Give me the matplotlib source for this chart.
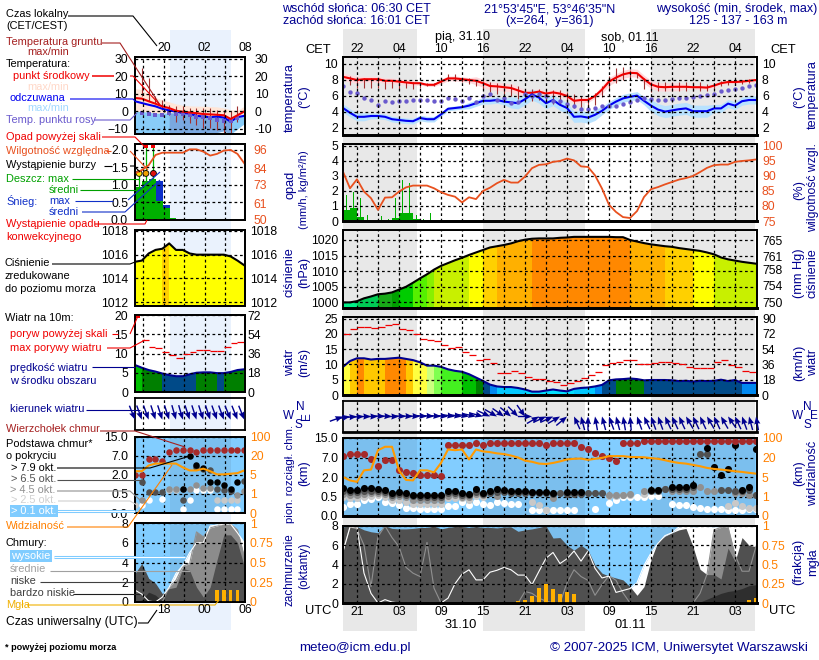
import numpy as np
import matplotlib
matplotlib.use('Agg')
import matplotlib.pyplot as plt
from matplotlib.colors import ListedColormap, BoundaryNorm
from matplotlib.ticker import NullLocator

plt.rcParams['font.family'] = ['Liberation Sans', 'DejaVu Sans']
FS = 8.7
LFS = 7.9
LW = 1.5
NAVY = '#000090'
ORANGE = '#ff8000'
RHCOL = '#e8501e'
na = np.nan

# ---- main meteogram, hourly, hour 0 = 19 UTC ----
hours = np.arange(60)
night_main = [(0, 10.5), (20, 34.6), (44, 58.9)]
grid_main = np.arange(2, 59, 3)
cet_labels = ['22', '', '04', '', '10', '', '16', '', '22', '', '04', '', '10', '', '16', '', '22', '', '04']
utc_labels = ['21', '', '03', '', '09', '', '15', '', '21', '', '03', '', '09', '', '15', '', '21', '', '03']

temp_mid = [8.4, 8.2, 8.0, 8.1, 8.1, 8.1, 7.9, 7.9, 7.8, 7.7, 7.6, 7.6, 7.4, 7.4, 7.8, 8.2, 8.2, 8.1, 8.0, 7.9,
            7.6, 7.25, 7.2, 7.1, 7.0, 6.7, 6.4, 6.4, 6.55, 6.3, 6.45, 6.3, 6.0, 5.4, 5.5, 5.5, 6.0, 6.8, 7.8, 8.3,
            8.7, 8.9, 8.85, 8.1, 7.45, 7.15, 7.1, 7.15, 7.15, 7.15, 7.1, 7.1, 7.05, 7.3, 7.6, 7.75, 7.75, 7.8, 7.9, 8.0]
temp_spread = [.45, .45, .45, .35, .35, .35, .35, .35, .35, .35, .35, .2, .2, .2, .3, .3, .3, .3, .3, .5,
               .5, .5, .5, .5, .5, .5, .35, .35, .35, .35, .35, .35, .35, .3, .3, .3, .3, .5, .5, .5,
               .5, .5, .5, .5, .5, .5, .5, .5, .5, .25, .25, .25, .25, .2, .2, .2, .2, .2, .2, .2]
felt_mid = [4.5, 3.9, 3.4, 3.4, 3.5, 3.5, 3.4, 3.1, 3.0, 2.9, 2.85, 3.25, 3.1, 3.1, 3.7, 4.4, 4.5, 4.6, 4.8, 5.1,
            5.4, 5.4, 5.5, 5.3, 5.2, 5.1, 5.6, 6.2, 5.8, 5.1, 5.5, 4.9, 4.5, 3.4, 3.45, 3.3, 3.65, 4.15, 4.8, 5.3,
            5.7, 5.9, 6.05, 5.4, 4.8, 4.3, 4.05, 4.2, 4.35, 4.45, 4.1, 4.1, 4.1, 4.45, 4.45, 5.05, 4.8, 5.35, 5.5, 5.5]
felt_spread = [.5, .5, .5, .5, .35, .35, .35, .35, .35, .35, .35, .35, .35, .35, .25, .25, .25, .25, .4, .4,
               .4, .4, .4, .4, .7, .7, .7, .7, .7, .7, .7, .7, .7, .7, .7, .7, .7, .5, .5, .5,
               .5, .5, .5, .5, .75, .75, .75, .75, .75, .75, .75, .75, .75, .5, .5, .5, .5, .5, .5, .5]
dew_point = [7.25, 6.55, 6.4, 5.75, 5.5, 4.9, 5.35, 5.3, 5.4, 5.4, 5.5, 5.55, 5.45, 5.4, 5.4, 5.7, 5.65, 5.4, 5.8, 5.3,
             6.0, 6.2, 5.55, 5.7, 5.1, 5.2, 6.2, 6.0, 6.2, 6.0, 5.4, 5.4, 5.0, 4.7, 4.4, 4.4, 4.55, 4.7, 4.8, 4.8,
             5.05, 5.2, 5.5, 5.8, 5.6, 5.45, 5.45, 5.6, 5.7, 5.8, 5.9, 6.0, 6.1, 6.2, 6.6, 6.8, 6.9, 7.05, 7.2, 7.35]
ground_max = [8.4, 8.5, 8.4, 8.3, 8.3, 8.2, 8.0, 8.0, 7.9, 7.8, 7.8, 7.8, 7.6, 7.6, 8.2, 8.7, 8.7, 8.3, 8.2, 8.0,
              7.9, 7.7, 7.6, 7.6, 7.5, 7.2, 6.9, 6.9, 6.9, 6.8, 6.8, 6.7, 6.5, 6.3, 6.0, 6.3, 6.4, 7.2, 8.5, 9.5,
              9.6, 9.2, 8.9, 8.3, 7.7, 7.7, 7.7, 7.8, 7.8, 7.7, 7.7, 7.7, 7.5, 7.6, 7.9, 8.0, 8.0, 8.0, 8.1, 8.1]
ground_min = [8.4, 7.4, 7.0, 7.0, 7.0, 7.0, 6.9, 7.0, 6.9, 7.0, 6.9, 7.0, 7.2, 7.3, 7.6, 7.9, 7.9, 7.7, 7.5, 7.2,
              6.9, 6.5, 6.3, 6.2, 6.0, 5.6, 5.5, 5.4, 5.5, 5.3, 5.0, 5.0, 4.6, 4.5, 4.3, 4.6, 4.9, 5.9, 6.9, 7.6,
              8.0, 8.3, 8.3, 6.9, 6.5, 6.6, 6.6, 6.6, 6.6, 6.6, 6.6, 6.6, 6.6, 6.9, 7.2, 7.4, 7.4, 7.5, 7.6, 7.7]

rain_mean = [.7, .85, .28, .05, 0, .08, .03, .2, .5, .5, .1, .02, 0, 0, .01]
rain_max = [1.75, 1.95, 1.5, .4, 0, .35, .1, 1.55, 2.7, 2.5, .4, .12, .5, 0, .03]
humidity = [91.4, 85.9, 88.9, 84.8, 82.6, 78.7, 82.8, 82.9, 84.8, 86.2, 86.8, 86.8, 86.8, 85.9, 84.6, 83.7, 83.1, 81.2, 82.9, 82.3,
            85.0, 86.1, 87.6, 88.7, 87.8, 87.8, 89.8, 92.6, 93.7, 93.9, 94.7, 95.0, 95.8, 95.2, 93.2, 93.0, 90.2, 85.8, 80.4, 78.0,
            76.3, 76.0, 78.3, 83.0, 85.6, 86.3, 87.2, 88.0, 88.8, 89.3, 90.0, 91.3, 92.7, 93.6, 93.8, 93.8, 94.7, 95.0, 95.2, 95.5]
pressure = [1000, 1000, 1000.4, 1001.3, 1001.9, 1002.6, 1002.8, 1003.2, 1004.1, 1005, 1006.3, 1007.7, 1009, 1010.5, 1011.7, 1012.6, 1013.5, 1014.3, 1015.2, 1016,
            1016.8, 1017.6, 1018, 1018.4, 1018.9, 1019.6, 1020.1, 1020.4, 1020.5, 1020.5, 1020.5, 1020.7, 1020.8, 1021, 1021, 1021, 1021, 1021, 1021, 1020.9,
            1020.9, 1020, 1019.5, 1019, 1018.6, 1018.3, 1018, 1017.8, 1017.4, 1017.1, 1016.8, 1016.5, 1016, 1015.4, 1014.4, 1013.8, 1013.4, 1013, 1012.7, 1012.4]
pressure_edges = [990, 1000.5, 1002.4, 1003.5, 1004.5, 1006, 1007, 1009.5, 1011, 1015, 1016.7, 1018.1, 1020.45, 1030]
pressure_colors = ['#00f088', '#00cc55', '#18a818', '#00a000', '#00cc00', '#22e000', '#55f000', '#88f000',
                   '#c8f000', '#ffff00', '#ffd000', '#ffb000', '#ff8800']
wind_speed = [9.2, 11.1, 12, 12, 11.6, 11.8, 11.8, 12, 12.2, 11.8, 11.4, 10.7, 9.6, 9.6, 9.2, 8.4, 7.9, 7.6, 6.8, 5.7,
              4.6, 3.4, 2.8, 2.6, 2.6, 2.3, 1.8, 1.1, 1.1, 1.45, 1.8, 1.45, 1.2, 2.0, 2.3, 2.45, 2.8, 3.3, 4.8, 5.1,
              5.2, 5.4, 5.2, 4.8, 4.9, 4.9, 4.9, 4.8, 4.55, 4.65, 4.4, 4.65, 4.55, 4.65, 5.0, 4.55, 4.9, 3.95, 3.95, 3.95]
wind_edges = [0, 1.9, 2.9, 4.0, 5.0, 6.2, 7.6, 9.0, 9.5, 9.9, 11.1, 11.85, 30]
wind_colors = ['#00e0ff', '#00c8ff', '#0088f0', '#004a88', '#007f00', '#00c000', '#44f020', '#80ff50',
               '#ccff80', '#ffff40', '#ffc800', '#ff8800']
gust = [20, 21.7, 22.3, 22.3, 22, 22.3, 22.8, 23.1, 21.7, 21.3, 20, 18.4, 18, 17.6, 16.3, 15.3, 15.7, 14, 13.1, 11.3,
        11.7, 10.4, 7.3, 7.3, 7.8, 7.3, 6, 5.3, 5.3, 4.7, 4.4, 3.3, 4, 4.7, 5.7, 6.4, 7.4, 9.7, 10.4, 10.9,
        11.3, 11.3, 10, 10, 10.4, 10.8, 10.8, 10.4, 10, 9.3, 8.7, 8.7, 8.7, 10.7, 11.3, 9.8, 9, 8, 7.4]
wind_dir = [20, 10, 5, 3, 0, 0, -3, -3, 0, -3, -3, -3, -5, -5, -5, -5, -8, -8, -10, -12,
            -15, -25, -30, -35, -40, -45, -55, 0, 30, 25, 25, 30, 40, 115, 105, 90, 100, 105, 110, 105,
            100, 95, 110, 115, 110, 110, 115, 115, 115, 120, 115, 115, 120, 115, 120, 125, 115, 110, 105, 100]

cloud_top = [7.6, 8.4, 8.4, 8.4, 6.65, 4.85, 6.3, 6.4, 3.9, 3.3, 3.1, 2.5, 2.5, 2.6, 2.15, 12.2, 12.2, 12.2, 12.2, 12.8,
             12.2, 12.9, 12.9, 12.9, 12.9, 12.9, 12.9, 12.9, 12.9, 12.2, 12.9, 12.9, 12.9, 12.9, 11.4, 10.3, 8.8, 7.8, 6.75, 6.0,
             12.9, 12.9, 12.9, 13.7, 13.7, 13.7, 13.7, 13.7, 13.7, 13.7, 13.7, 13.7, 13.7, 13.7, 13.7, 13.7, 13.7, 13.7, 13.7, 13.7]
base_79 = [1.12, 1.0, 1.0, 1.12, 1.12, 1.05, 1.0, .8, .82, .75, .65, .6, .6, .58, .58, .94, .94, .76, .72, 1.04,
           .8, .94, 1.04, .98, .94, .9, .9, .85, .85, .85, .8, na, .82, .82, .82, na, na, na, na, na,
           na, na, na, na, 1.0, 1.0, na, 1.22, 1.22, 1.22, 1.4, na, 11, 4.5, 2.6, 4, 12, 1.0, 1.2, 10.6]
base_65 = [.95, .85, .85, .95, .95, .9, .85, .65, .7, .6, .55, .5, .5, .5, .5, .8, .8, .65, .6, .85,
           .7, .8, .85, .85, .8, .8, .8, .75, .75, .75, .7, .78, .7, .7, .7, .75, .75, .75, na, na,
           na, na, na, na, .9, .9, 1.05, 1.1, 1.1, 1.1, 1.2, 8.5, 8.3, na, 1, 1, .9, .9, 1, .65]
base_45 = [.7, .65, .65, .7, .75, .8, .7, .5, .55, .48, .42, .42, .42, .42, .42, .55, .6, .5, .5, .7,
           .65, na, .55, na, na, na, na, na, na, na, .46, na, na, na, na, na, na, na, .65, .65,
           .65, .68, na, .95, 1, 1, 1.05, .95, .95, .95, .9, 1.25, .95, .95, na, na, .8, .8, .6, .6]
base_25 = [.5, .45, .45, .5, .55, .6, .5, .4, .4, .35, .3, .3, .3, .3, .3, .45, .45, .45, .4, .55,
           .5, na, na, na, na, na, na, .37, .28, .15, na, na, na, na, na, na, na, na, .55, .55,
           .6, .6, na, .7, na, na, na, na, na, na, na, na, na, na, na, .26, .33, .26, .2, .2]
base_01 = [.24, .31, .31, .4, .43, .5, .37, .34, .28, .21, .2, .18, .18, .18, .18, .26, .26, .37, .28, .36,
           .31, .28, .37, .33, .31, .31, na, .15, .15, .15, .15, .15, .15, .15, na, na, .18, na, .33, .42,
           .5, .5, .5, .5, .54, .54, na, .31, .28, .28, .24, .2, .18, .18, .18, .16, .16, .16, .18, .18]
visibility = [5, 4.3, 4, 10.1, 10.7, 50, 64, 64, 10, 4.4, 4.3, 10.1, 10.1, 8.6, 15.8, 53, 50, 53, 18.5, 53,
              45, 42, 37, 34, 28, 20, 17.6, 16.7, 15.3, 15, 15.8, 17, 18.5, 19, 19.2, 18.2, 19, 19.7, 25.6, 25.6,
              25.6, 22.4, 21.6, 21, 19.5, 19, 17.9, 16.7, 15.8, 15.3, 14.3, 13.3, 12, 11.2, 10.7, 10.1, 9.4, 8.9, 8.2, 7.6]

cover_high = [5.35, 7.9, 7.9, 3.1, 1, 0, .35, .1, 0, 0, 0, 0, 0, 0, 0, .5, 2, 3, 3.45, 2.4,
              2.4, 3.2, 3.4, 3.7, 3.45, 2.9, 2.9, 1.9, 3.3, 4.65, 5.25, 4.1, 4.6, 5.4, 4.35, 5.4, 3.6, 2.6, 2.8, 1.1,
              1.3, 1.5, 2.1, 3.9, 5.2, 6.2, 7, 7.3, 7.9, 8, 7.9, 7.95, 7.95, 7.9, 7.95, 7.95, 7.95, 7.95, 7.95, 7.95]
cover_mid = [5.35, 7.9, 7.7, 6, 1.7, 6.9, 8, 6.8, 5.85, 3.7, 3.1, 2.75, 6.3, 1.55, 0, 0, 0, 0, 0, 0,
             0, 0, 0, 0, 0, 0, 1.2, 1, .5, .2, 0, 0, 2.1, 3.45, 2.75, 2.35, .8, 1.9, 2.85, 2.35,
             1.05, 0, 0, 0, 0, 0, 0, 0, 0, 0, 0, 1, 3, 7.6, 7.85, 7.9, 5, 3.3, 3.3, 5.9]
cover_low = [7.9, 8, 7.95, 7.6, 7.4, 7.3, 8, 7.75, 7.7, 7.7, 7.75, 7.85, 7.85, 8, 7.7, 7.85, 7.95, 7.95, 7.85, 7.95,
             7.85, 7.85, 7.8, 7.9, 7.9, 7.45, 7.6, 7.7, 7.85, 8, 6.75, 6.8, 6, 5.5, 6, 5.5, 3.95, 3.1, 2.8, 2.6,
             2.4, 1.7, .8, 1.7, 4.5, 6.4, 6.95, 7.3, 7.6, 7.75, 5.85, 3.5, 2.95, 2.95, 2.5, 5.7, 4.3, 6.8, 6, 5.85]
cover_vlow = [0] * 50 + [0, .1, .4, .7, 1.0, 1.2, 1.3, 1.5, 1.8, 1.9]
fog_hours = [25, 26, 27, 28, 29, 30, 31, 32, 33, 58, 59]
fog_frac = [.02, .04, .085, .2, .25, .18, .12, .14, .12, .04, .06]

# ---- small sample meteogram on the left (legend) ----
hl = np.arange(17)
night_left = (5.1, 14.05)
grid_left = [1.2, 4.2, 7.2, 10.2, 13.2]
l_temp = [7.7, 7.3, 5.8, 4.4, 2.9, 1.9, .4, -.2, -.6, -1, -1.5, -1.7, -1.9, -2.2, -4.3, -2.2, 0]
l_temp_hi = [13, 12.5, 9.5, 8, 6.5, 5.5, 4.3, 3.5, 3.2, 3, 3, 2.8, 2.6, 2, 1, .5, 3]
l_felt = [5.8, 4.8, 3.8, 2.9, 1.5, .6, -.2, -1, -1.3, -2.5, -2.9, -3.3, -2.9, -3.5, -5.8, -3.3, -2.5]
l_felt_hi = [0, 0, -.5, -1, -1, -.8, -1, -1.5, -1.8, -2.5, -3, -3.5, -3, -4, -6, -3.5, -2.5]
l_felt_lo = [-13, -13, -13, -13, -13, -13, -13, -13, -13, -13, -13, -13, -12, -11, -13, -10, -7]
l_dew = [na, -1, -1.3, -1.9, -2.3, -1, -1.3, -1.3, -1.9, -3.3, -3.3, -3.8, -4.8, -5.2, -5.2, -3.8, na]
l_ground_hours = np.arange(1, 16)
l_ground_max = [25, 19, 8.6, 6.7, 3.8, 3.3, 2.9, 1.9, 1.9, 1.9, 1.9, 1, .6, 0, 3.3]
l_ground_min = [8.6, 5.8, 4.8, 1, -1.9, -5.8, -4.8, -6.7, -7.7, -9.6, -9.6, -10.6, -12.5, -12.5, -5.8]
l_rain = [.95, 1.1, 1.17, .55, .33, .05]
l_snow = [0, 0, 0, 1.1, .43, 0]
l_rain_max = [1.4, 2.1, 2.1]
l_rain_max_hours = [.6, 1.6, 2.7]
l_storm_colors = ['#ffe000', '#f0a000', '#e01010']
l_rh = [80.6, 82.8, 86, 92.7, 94.2, 94.2, 94.2, 94.2, 96.4, 96.4, 94.9, 92.3, 93.4, 95.6, 96, 93.4, 87.2]
l_pressure = [1015.4, 1015.5, 1016.1, 1016.4, 1016.5, 1016.95, 1016.4, 1016.4, 1016.1, 1016, 1016, 1016, 1016, 1016, 1015.85, 1015.5, 1015.1]
l_wind = [7, 6.3, 5.7, 5.3, 4.8, 4.4, 4.1, 4.1, 4.6, 5, 5.1, 5.1, 4.9, 4.9, 5.2, 5.7, 5.9]
l_gust = [13.4, 11.6, 11.4, 10.5, 9.7, 8.9, 9.9, 10.4, 10.9, 10.9, 10.7, 10.7, 11.8, 12.8, 13.1]
l_gust_hours = np.arange(1, 16)
l_wind_dir = [-68, -70, -70, -72, -72, -72, -74, -74, -72, -72, -72, -72, -70, -70, -68, -68, -68]
l_top = [2, 2, 6.2, 6.2, 5.8, 8.8, 9.5, 9.5, 9.5, 8.8, 9.5, 9.5, 9.5, 9.5, 9.5, 9.5, 9.5]
l_79 = [na, na, na, na, na, na, na, .86, 7, 4.65, 3.8, 1.46, 1.46, 1.2, .86, 1.46, na]
l_65 = [na, 1.45, .63, .63, .63, na, na, .35, na, 4.2, 3.5, 3.2, .92, .8, .7, na, 1.5]
l_45 = [na, .33, na, na, na, .86, .86, .86, .86, 1.2, .95, 1.0, na, na, na, .47, .7]
l_25 = [.2, na, na, na, na, .8, .8, na, na, na, na, na, .34, .34, .34, .34, na]
l_01 = [na, .2, .34, na, .36, na, na, .1, .33, .8, .8, .8, .1, .1, .1, .1, na]
l_vis = [8, 8, 12.5, 14, 14, 14, 14, 11, 8.6, 8.6, 10, 8, 5.5, 5.5, 6, 6.5, 8.6]
l_high = [1.2, .8, .1, 0, .5, 1.5, 2.9, 3.7, 5, 6, 6, 7.7, 7.8, 7.9, 7.9, 7, 6]
l_mid = [0, 0, 0, 0, 0, 1.5, 2.2, 3.6, 3.9, 7.1, 6.6, 7.5, 7.7, 7.9, 7.9, 7.3, 4.6]
l_low = [2.9, 3.9, 2.4, 1.9, .85, 1.35, 1.5, 3.4, 3.2, 1.5, .5, 1.5, 4.25, 6.8, 6.8, 6, 3.6]
l_vlow = [0, .2, 1.0, .7, .1, 0, 0, 0, 0, 0, 0, 0, 0, 0, 0, 0, 0]
l_fog_hours = [12, 13, 14, 15]
l_fog = [.15, .15, .15, .15]

base_ticks = [0, .5, 2, 7, 15]
vis_ticks = [0, 1, 5, 20, 100]
SKY_DAY = '#82cdff'
SKY_NIGHT = '#7bbfee'
C_79, C_65, C_45, C_25, C_01 = 'black', '#505050', '#909090', '#c8c8c8', 'white'


def base_fwd(v):
    return np.interp(v, base_ticks, [0, 1, 2, 3, 4])


def base_inv(p):
    return np.interp(p, [0, 1, 2, 3, 4], base_ticks)


def vis_fwd(v):
    return np.interp(v, vis_ticks, [0, 1, 2, 3, 4])


def vis_inv(p):
    return np.interp(p, [0, 1, 2, 3, 4], vis_ticks)


fig = plt.figure(figsize=(8.2, 6.6), dpi=100, facecolor='white')


def box_axes(x0, y0, x1, y1, **kw):
    return fig.add_axes([x0 / 820, 1 - y1 / 660, (x1 - x0) / 820, (y1 - y0) / 660], **kw)


# backgrounds behind the panels
bg = box_axes(343, 29, 757, 631, zorder=-2, xlim=(0, 59.14), ylim=(0, 1))
bg.axis('off')
for a, b in night_main:
    bg.axvspan(a, b, color='#e8e8e8', lw=0)
bg2 = box_axes(135, 30, 245, 630, zorder=-2, xlim=(0, 16.1), ylim=(0, 1))
bg2.axis('off')
bg2.axvspan(*night_left, color='#eaf2fd', lw=0)


def panel(box, xlim, xticks, ylim, yticks, ylabels=None, rticks=None, rlabels=None, rlim=None,
          rcolor='black', yscale=None, rscale=None, facecolor='none', lpad=3.6, rpad=3.6, bottom_lw=2):
    ax = box_axes(*box, facecolor=facecolor)
    ax.set_xlim(*xlim)
    if yscale:
        ax.set_yscale('function', functions=yscale)
        ax.yaxis.set_minor_locator(NullLocator())
    ax.set_ylim(*ylim)
    ax.set_xticks(xticks)
    ax.tick_params(length=0, labelsize=FS, labelbottom=False)
    ax.tick_params(axis='x', pad=1.5)
    ax.tick_params(axis='y', pad=lpad)
    ax.set_yticks(yticks if yticks else [])
    if ylabels:
        ax.set_yticklabels(ylabels)
    ax.grid(True, color='black', lw=0.9, ls=(0, (2.2, 2.2)))
    ax.set_axisbelow(False)
    for s in ax.spines.values():
        s.set_linewidth(1.3)
    ax.spines['bottom'].set_linewidth(bottom_lw)
    tw = None
    if rlim is not None:
        tw = ax.twinx()
        if rscale:
            tw.set_yscale('function', functions=rscale)
            tw.yaxis.set_minor_locator(NullLocator())
        tw.set_ylim(*rlim)
        tw.set_yticks(rticks)
        tw.set_yticklabels(rlabels if rlabels else [str(t) for t in rticks])
        tw.tick_params(length=0, labelsize=FS, pad=rpad, colors=rcolor)
        tw.patch.set_visible(False)
        for s in tw.spines.values():
            s.set_linewidth(1.3)
        tw.spines['bottom'].set_linewidth(bottom_lw)
    return ax, tw


def fill_classes(ax, x, y, edges, colors):
    # coloured columns, cut off at the line
    y = np.asarray(y, float)
    lo, hi = ax.get_ylim()
    poly = ax.fill_between(x, y, lo, facecolor='none', edgecolor='none')
    mids = (y[:-1] + y[1:]) / 2
    mesh = ax.pcolormesh(x, [lo, hi], mids[None, :], cmap=ListedColormap(colors),
                         norm=BoundaryNorm(edges, len(colors)), zorder=1, linewidth=0)
    mesh.set_clip_path(poly.get_paths()[0], ax.transData)


def arrows(ax, x, angles, length, y0=0):
    a = np.radians(angles)
    ax.quiver(x, np.full(len(x), y0), length * np.cos(a), length * np.sin(a), angles='uv', scale_units='dots',
              scale=1, units='dots', width=1.4, headwidth=4.4, headlength=5.5, headaxislength=5,
              pivot='tip', color='#000090', clip_on=False, zorder=3)


def cloud_dots(ax, x, top, b79, b65, b45, b25, b01, size):
    for vals, col in [(b01, C_01), (b25, C_25), (b45, C_45), (b65, C_65), (b79, C_79), (top, '#a52a2a')]:
        ax.scatter(x, vals, s=size, color=col, lw=0, zorder=3, clip_on=True)


def cover_layers(ax, x, high, mid, low, vlow):
    ax.fill_between(x, 0, high, color='white', lw=0, zorder=1)
    ax.fill_between(x, 0, mid, color='#8c8c8c', lw=0, zorder=1.1)
    ax.fill_between(x, 0, low, color='#505050', lw=0, zorder=1.2)
    ax.fill_between(x, 0, vlow, color='#2e2e2e', lw=0, zorder=1.3)
    ax.plot(x, mid, color='#909090', lw=.8, zorder=2)
    ax.plot(x, high, color='white', lw=.8, zorder=2.1)


# ---- main panels ----
xm = (0, 59.14)
temp = np.array(temp_mid)
felt = np.array(felt_mid)
ax, tw = panel((343, 57, 757, 135), xm, grid_main, (1.125, 10.875), [2, 4, 6, 8, 10],
               rticks=[2, 4, 6, 8, 10], rlim=(1.125, 10.875))
ax.set_xticklabels(cet_labels)
ax.tick_params(labeltop=True, top=False)
ax.fill_between(hours, temp - temp_spread, temp + temp_spread, color='#ffd8dc', lw=0, zorder=1)
ax.fill_between(hours, felt - felt_spread, felt + felt_spread, color='#b8e2ff', lw=0, zorder=1.1)
ax.vlines(hours, ground_min, ground_max, color='#a03030', lw=.8, zorder=1.5)
ax.plot(hours, temp, color='#f00000', lw=LW, zorder=2)
ax.plot(hours, felt, color='#0000f0', lw=LW, zorder=2)
ax.scatter(hours, dew_point, s=10, color='#6a5acd', lw=0, zorder=2)

ax, tw = panel((343, 144, 757, 221), xm, grid_main, (0, 5.13), [0, 1, 2, 3, 4, 5],
               rticks=[75, 80, 85, 90, 95, 100], rlim=(75, 100.65), rcolor=RHCOL)
ax.set_xticklabels([])
ax.bar(hours[:len(rain_mean)] + .5, rain_mean, width=1, color='#00b000', lw=0, zorder=1)
ax.bar(hours[:len(rain_max)] + .45, rain_max, width=.14, color='#00b000', lw=0, zorder=1)
tw.plot(hours, humidity, color=RHCOL, lw=1.3)

pmin, pmax = 998.2, 1023.2
ax, tw = panel((343, 230, 757, 308), xm, grid_main, (pmin, pmax), [1000, 1005, 1010, 1015, 1020],
               rticks=[750, 754, 758, 761, 765], rlim=(pmin * .75006, pmax * .75006))
ax.set_xticklabels([])
fill_classes(ax, hours, pressure, pressure_edges, pressure_colors)
ax.plot(hours, pressure, color='black', lw=LW, zorder=2)

ax, tw = panel((343, 317, 757, 395), xm, grid_main, (0, 25.5), [0, 5, 10, 15, 20, 25],
               rticks=[0, 18, 36, 54, 72, 90], rlim=(0, 25.5 * 3.6))
ax.set_xticklabels([])
fill_classes(ax, hours, wind_speed, wind_edges, wind_colors)
ax.plot(hours, wind_speed, color='#000090', lw=LW, zorder=2)
ax.hlines(gust, hours[:len(gust)], hours[:len(gust)] + 1, color='#f00000', lw=.9, zorder=3)

ax, tw = panel((343, 401, 757, 432), xm, grid_main, (-1, 1), [0])
ax.set_xticklabels([])
ax.set_yticklabels([''])
ax.yaxis.grid(False)
arrows(ax, hours, wind_dir, 14)

ax, tw = panel((343, 438, 757, 516), xm, grid_main, (0, 15), base_ticks,
               ['0.0', '0.5', '2.0', '7.0', '15.0'], rticks=vis_ticks, rlim=(0, 100), rcolor=ORANGE,
               yscale=(base_fwd, base_inv), rscale=(vis_fwd, vis_inv), facecolor=SKY_DAY)
ax.set_xticklabels([])
for a, b in night_main:
    ax.axvspan(a, b, color=SKY_NIGHT, lw=0, zorder=0.5)
cloud_dots(ax, hours, cloud_top, base_79, base_65, base_45, base_25, base_01, 26)
tw.plot(hours, visibility, color='#ff9a00', lw=LW)

ax, tw = panel((343, 526, 757, 603), xm, grid_main, (0, 8), [0, 2, 4, 6, 8],
               rticks=[0, .25, .5, .75, 1], rlabels=['0', '0.25', '0.5', '0.75', '1'], rlim=(0, 1),
               rcolor=ORANGE, facecolor=SKY_DAY)
for a, b in night_main:
    ax.axvspan(a, b, color=SKY_NIGHT, lw=0, zorder=0.5)
cover_layers(ax, hours, cover_high, cover_mid, cover_low, cover_vlow)
tw.bar(fog_hours, fog_frac, width=.5, color='#ffb000', lw=0)
ax.tick_params(labelbottom=True)
ax.tick_params(axis='x', pad=2.5)
ax.set_xticklabels(utc_labels)

# ---- left panels ----
xl = (0, 16.1)
ax, tw = panel((135, 57, 245, 134), xl, grid_left, (-12.9, 31.1), [-10, 0, 10, 20, 30],
               rticks=[-10, 0, 10, 20, 30], rlim=(-12.9, 31.1), lpad=5, rpad=7, bottom_lw=1.3)
ax.fill_between(hl, l_felt_hi, l_temp_hi, color='#ffe6d8', lw=0, zorder=1)
ax.fill_between(hl, l_felt_lo, l_felt_hi, color='#88ccf8', lw=0, zorder=1.1)
band = (hl >= night_left[0] - .2) & (hl <= night_left[1])
ax.fill_between(hl, l_felt_lo, l_felt_hi, where=band, color='#7aa8e0', lw=0, zorder=1.2)
ax.vlines(l_ground_hours, l_ground_min, l_ground_max, color='#a03030', lw=.8, zorder=1.5)
ax.plot(hl, l_temp, color='#f00000', lw=LW, zorder=2.1)
ax.plot(hl, l_felt, color='#0000f0', lw=LW, zorder=2)
ax.scatter(hl, l_dew, s=10, color='#6a5acd', marker='s', lw=0, zorder=2)

ax, tw = panel((135, 144, 245, 220), xl, grid_left, (0, 2.17), [0, .5, 1, 1.5, 2],
               ['0.0', '0.5', '1.0', '1.5', '2.0'], rticks=[50, 61, 73, 84, 96],
               rlim=(50, 50 + 23 * 2.17), rcolor=RHCOL, lpad=5, rpad=6, bottom_lw=1.3)
ax.bar(np.arange(6) + .55, l_snow, width=1, color='#1030c8', lw=0, zorder=1)
ax.bar(np.arange(6) + .55, l_rain, width=1, color='#00b000', lw=0, zorder=1.1)
ax.vlines(l_rain_max_hours, 0, l_rain_max, color='#00b000', lw=.9, zorder=1.2)
ax.scatter(l_rain_max_hours[1:], [2.1, 2.1], s=10, marker='s', color='#f00000', lw=0, zorder=3, clip_on=False)
ax.scatter(l_rain_max_hours, [1.33] * 3, s=18, color=l_storm_colors, edgecolor='black', lw=.6, zorder=3)
ax.hlines(0.01, .3, 4.2, color='#f00000', lw=1.2, ls=(0, (2, 2)), zorder=3)
tw.plot(hl, l_rh, color=RHCOL, lw=1.3)

ax, tw = panel((135, 230, 245, 306), xl, grid_left, (1011.67, 1018.08), [1012, 1014, 1016, 1018],
               rticks=[1012, 1014, 1016, 1018], rlim=(1011.67, 1018.08), lpad=5, rpad=3.6, bottom_lw=1.3)
fill_classes(ax, hl, l_pressure, pressure_edges, pressure_colors)
ax.plot(hl, l_pressure, color='black', lw=LW, zorder=2)

ax, tw = panel((135, 315, 245, 392), xl, grid_left, (0, 20), [0, 5, 10, 15, 20],
               rticks=[0, 18, 36, 54, 72], rlim=(0, 72), lpad=5, rpad=1.5, bottom_lw=1.3)
fill_classes(ax, hl, l_wind, wind_edges, wind_colors)
ax.plot(hl, l_wind, color='#000090', lw=LW, zorder=2)
ax.hlines(l_gust, l_gust_hours, l_gust_hours + 1, color='#f00000', lw=.9, zorder=3)
ax.scatter([.5], [19.7], s=10, marker='s', color='#f00000', lw=0, zorder=3)

ax, tw = panel((135, 398, 245, 430), xl, grid_left, (-1, 1), [0], bottom_lw=1.3)
ax.set_yticklabels([''])
ax.yaxis.grid(False)
arrows(ax, hl, l_wind_dir, 15, y0=-.35)

ax, tw = panel((135, 437, 245, 513), xl, grid_left, (0, 15), base_ticks,
               ['0.0', '0.5', '2.0', '7.0', '15.0'], rticks=vis_ticks, rlim=(0, 100), rcolor=ORANGE,
               yscale=(base_fwd, base_inv), rscale=(vis_fwd, vis_inv), facecolor=SKY_DAY, lpad=5, bottom_lw=1.3)
ax.axvspan(*night_left, color=SKY_NIGHT, lw=0, zorder=.5)
cloud_dots(ax, hl, l_top, l_79, l_65, l_45, l_25, l_01, 22)
tw.plot(hl, l_vis, color='#ff9a00', lw=LW)

ax, tw = panel((135, 523, 245, 602), xl, grid_left, (0, 8), [0, 2, 4, 6, 8],
               rticks=[0, .25, .5, .75, 1], rlabels=['0', '0.25', '0.5', '0.75', '1'], rlim=(0, 1),
               rcolor=ORANGE, facecolor=SKY_DAY, lpad=5, bottom_lw=1.3)
ax.axvspan(*night_left, color=SKY_NIGHT, lw=0, zorder=.5)
cover_layers(ax, hl, l_high, l_mid, l_low, l_vlow)
tw.bar(l_fog_hours, l_fog, width=.5, color='#ffb000', lw=0)

# ---- texts and leader lines in pixel coordinates ----
ov = box_axes(0, 0, 820, 660, zorder=10, xlim=(0, 820), ylim=(660, 0))
ov.axis('off')


def txt(x, y, s, color='black', ha='left', size=LFS, **kw):
    ov.text(x, y, s, color=color, ha=ha, va='center', fontsize=size, **kw)


def rot(x, y, s, color=NAVY, size=9.2):
    ov.text(x, y, s, color=color, ha='center', va='center', rotation=90, fontsize=size)


def lead(xs, ys, color, lw=.8):
    ov.plot(xs, ys, color=color, lw=lw, solid_capstyle='butt')


DARKRED = '#a52020'
RED = '#f00000'
GREEN = '#00a000'
BLUE = '#1030c8'
PALEBLUE = '#80ccff'

txt(282, 9, 'wschód słońca: 06:30 CET', NAVY, size=9)
txt(283, 21, 'zachód słońca: 16:01 CET', NAVY, size=9)
txt(550, 9, '21°53\'45"E, 53°46\'35"N', NAVY, ha='center', size=9)
txt(550, 21, '(x=264,  y=361)', NAVY, ha='center', size=9)
txt(817, 9, 'wysokość (min, środek, max)', NAVY, ha='right', size=9)
txt(738, 21, '125 - 137 - 163 m', NAVY, ha='center', size=9)
txt(463, 37, 'pią, 31.10', ha='center', size=9)
txt(630, 37, 'sob, 01.11', ha='center', size=9)
txt(318, 50, 'CET', ha='center', size=9.3)
txt(783, 50, 'CET', ha='center', size=9.3)
txt(318, 611, 'UTC', ha='center', size=9.3)
txt(782, 611, 'UTC', ha='center', size=9.3)
txt(461, 625, '31.10', ha='center', size=9.3)
txt(630, 625, '01.11', ha='center', size=9.3)
txt(355, 648, 'meteo@icm.edu.pl', NAVY, ha='center', size=9.6)
txt(679, 648, '© 2007-2025 ICM, Uniwersytet Warszawski', NAVY, ha='center', size=9.6)
txt(5, 648, '* powyżej poziomu morza', size=6.6, fontweight='bold')

for x, l in zip((164, 204, 245), ('20', '02', '08')):
    txt(x, 48, l, ha='center', size=FS)
for x, l in zip((164, 204, 245), ('18', '00', '06')):
    txt(x, 610, l, ha='center', size=FS)

rot(290, 98, 'temperatura')
rot(304, 97, '(°C)')
rot(291, 185, 'opad')
rot(304, 190, '(mm/h, kg/m²/h)', size=8)
rot(290, 272, 'ciśnienie')
rot(304, 272, '(hPa)')
rot(290, 362, 'wiatr')
rot(304, 362, '(m/s)')
rot(290, 474, 'pion. rozciągł. chm.', size=8.2)
rot(304, 473, '(km)')
rot(290, 570, 'zachmurzenie', size=8.4)
rot(304, 566, '(oktanty)', size=8.6)
rot(799, 97, '(°C)')
rot(813, 95, 'temperatura')
rot(799, 190, '(%)')
rot(813, 187, 'wilgotność wzgl.', size=8.8)
rot(799, 273, '(mm Hg)')
rot(813, 273, 'ciśnienie')
rot(799, 363, '(km/h)')
rot(813, 362, 'wiatr')
rot(799, 473, '(km)')
rot(813, 473, 'widzialność')
rot(798, 562, '(frakcja)')
rot(813, 562, 'mgła')
txt(300, 407, 'N', NAVY, ha='center', size=8.5)
txt(289, 416, 'W', NAVY, ha='center', size=8.5)
txt(307, 416, 'E', NAVY, ha='center', size=8.5, rotation=90)
txt(298, 425, 'S', NAVY, ha='center', size=8.5)
txt(807, 407, 'N', NAVY, ha='center', size=8.5)
txt(798, 416, 'W', NAVY, ha='center', size=8.5)
txt(814, 416, 'E', NAVY, ha='center', size=8.5)
txt(807, 425, 'S', NAVY, ha='center', size=8.5)

txt(6, 14, 'Czas lokalny')
txt(6, 26, '(CET/CEST)')
lead([68, 133, 157], [16, 16, 46], 'black')
txt(6, 42, 'Temperatura gruntu', DARKRED)
txt(27, 52, 'max/min', DARKRED)
lead([102, 120, 160], [43, 43, 105], DARKRED)
txt(6, 64, 'Temperatura:')
txt(13, 76, 'punkt środkowy', RED)
lead([92, 114], [76, 76], RED, 1.1)
lead([130, 133, 160], [76, 76, 105], RED)
txt(27, 87, 'max/min', '#ffd8c8')
txt(10, 98, 'odczuwana', '#0000f0')
lead([70, 133, 136], [99, 99, 102], '#0000f0')
txt(27, 108, 'max/min', '#a0d8ff')
txt(6, 120, 'Temp. punktu rosy', '#6a5acd')
lead([94, 130, 137], [120, 120, 113], '#6a5acd')
txt(6, 137, 'Opad powyżej skali', RED)
lead([102, 135, 145], [137, 137, 147], RED)
txt(6, 151, 'Wilgotność względna', RHCOL)
lead([106, 111], [151, 151], RHCOL)
lead([130, 148], [151, 170], RHCOL)
txt(6, 165, 'Wystąpienie burzy')
lead([104, 112], [166, 166], 'black')
lead([130, 134, 140], [166, 166, 172], 'black')
txt(6, 179, 'Deszcz: max', GREEN)
lead([72, 139], [179, 179], GREEN)
txt(49, 190, 'średni', GREEN)
lead([80, 137], [190, 190], GREEN)
txt(6, 201, 'Śnieg:', BLUE)
txt(49, 201, 'max', BLUE)
lead([75, 113], [201, 201], BLUE)
lead([128, 160], [200, 172], BLUE)
txt(49, 212, 'średni', BLUE)
lead([82, 125, 160], [212, 212, 180], BLUE)
txt(6, 224, 'Wystąpienie opadu', RED)
lead([95, 145, 147], [224, 224, 220], RED)
txt(6, 237, 'konwekcyjnego', RED)
txt(5, 263, 'Ciśnienie')
lead([52, 130, 135], [264, 264, 262], 'black')
txt(5, 276, 'zredukowane')
txt(5, 289, 'do poziomu morza')
txt(5, 318, 'Wiatr na 10m:')
txt(10, 334, 'poryw powyżej skali', RED)
lead([112, 118], [334, 334], RED)
lead([130, 138], [334, 316], RED)
txt(10, 348, 'max porywy wiatru', RED)
lead([107, 130, 145], [348, 348, 340], RED)
txt(10, 368, 'prędkość wiatru', NAVY)
lead([92, 135], [367, 367], NAVY)
txt(10, 381, 'w środku obszaru', NAVY)
txt(10, 409, 'kierunek wiatru', NAVY)
lead([86, 140], [410, 410], NAVY)
txt(6, 429, 'Wierzchołek chmur', DARKRED)
lead([100, 135, 185], [431, 431, 447], DARKRED)
txt(6, 444, 'Podstawa chmur*')
txt(6, 456, 'o pokryciu')
txt(11, 468, '> 7.9 okt.')
lead([57, 150, 190], [468, 468, 456], 'black')
txt(11, 479, '> 6.5 okt.', C_65)
lead([57, 143], [480, 480], C_65)
txt(10, 490, '> 4.5 okt.', C_45)
lead([57, 130, 140], [491, 491, 500], C_45)
txt(11, 500, '> 2.5 okt.', '#d0d0d0')
lead([58, 130, 137], [501, 501, 505], '#d0d0d0')
txt(11, 511, '> 0.1 okt.', 'white', bbox=dict(facecolor=PALEBLUE, edgecolor='none', pad=1))
lead([55, 135], [511, 511], PALEBLUE, 2.2)
lead([55, 135], [511, 511], 'white', .7)
txt(6, 526, 'Widzialność', ORANGE)
lead([67, 128, 172], [527, 527, 465], ORANGE)
txt(6, 543, 'Chmury:')
txt(11, 556, 'wysokie', 'white', bbox=dict(facecolor=PALEBLUE, edgecolor='none', pad=1))
lead([54, 185], [557, 557], PALEBLUE, 2.2)
lead([54, 185], [557, 557], 'white', .7)
txt(10, 569, 'średnie', '#a0a0a0')
lead([50, 190], [571, 571], '#a0a0a0')
txt(10, 581, 'niske', '#404040')
lead([40, 135], [582, 582], '#404040')
txt(10, 593, 'bardzo niskie', '#404040')
lead([73, 140], [594, 594], '#202020')
txt(6, 605, 'Mgła', '#f0b000')
lead([27, 215, 219], [605, 605, 600], '#f0b000')
txt(6, 622, 'Czas uniwersalny (UTC)', size=8.7)
lead([138, 148, 157], [623, 623, 610], 'black')

fig.savefig('out.png', dpi=100)
